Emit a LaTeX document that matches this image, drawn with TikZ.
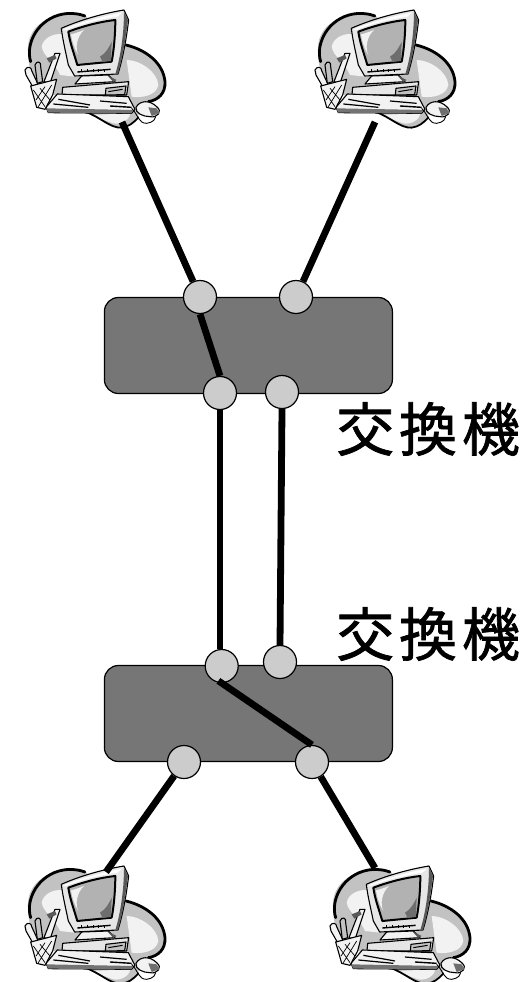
\documentclass[tikz,border=0pt]{standalone}
\usepackage{fontspec}
\newfontfamily\cjk[FakeBold=1.2,LetterSpace=8.5]{Noto Sans CJK JP}
\definecolor{swgray}{HTML}{767676}
\definecolor{portgray}{HTML}{CCCCCC}
\definecolor{cloudgray}{HTML}{C2C2C2}
\definecolor{cloudlight}{HTML}{F2F2F2}
\definecolor{screengray}{HTML}{B2B2B2}
\definecolor{shadegray}{HTML}{6E6E6E}
\definecolor{bodygray}{HTML}{E6E6E6}
\tikzset{
  switchbox/.style={draw=black,line width=1.2pt,fill=swgray,rounded corners=14pt,minimum width=288pt,minimum height=96pt,inner sep=0pt},
  portnode/.style={circle,draw=black,line width=1.2pt,fill=portgray,minimum size=33pt,inner sep=0pt},
  linkline/.style={line width=6.8pt,black},
  lbl/.style={inner sep=0pt,font=\cjk\fontsize{58}{58}\selectfont},
  ink/.style={draw=black,line width=1.1pt,line join=round},
  pics/desktop/.style={code={
    \begin{scope}[x=0.3333pt,y=-0.3333pt]
    % cloud
    \path[fill=cloudgray] (85,130) .. controls (95,70) and (160,30) .. (250,45) -- (380,135)
      .. controls (440,150) and (490,190) .. (495,245) .. controls (497,290) and (460,310) .. (430,310)
      .. controls (420,350) and (390,385) .. (350,382) .. controls (320,375) and (290,345) .. (250,335)
      -- (100,250) .. controls (90,210) and (80,170) .. (85,130) -- cycle;
    \path[fill=cloudlight] (125,140) .. controls (130,110) and (170,95) .. (200,105) -- (225,230) -- (180,225) .. controls (160,180) and (130,170) .. (125,140) -- cycle;
    \path[fill=cloudlight] (380,180) .. controls (420,180) and (472,215) .. (475,255) .. controls (470,285) and (430,295) .. (395,290) -- cycle;
    \path[fill=cloudlight] (270,345) -- (390,340) .. controls (390,360) and (360,375) .. (340,370) -- cycle;
    % cloud outline
    \draw[line width=2.8pt,line cap=round] (92,185) .. controls (75,130) and (115,55) .. (190,42) .. controls (215,38) and (240,42) .. (255,48);
    \draw[line width=2.8pt,line cap=round] (378,135) .. controls (440,150) and (490,190) .. (495,245) .. controls (497,280) and (475,300) .. (445,305);
    \draw[line width=1.8pt,line cap=round] (255,335) .. controls (300,350) and (330,385) .. (365,383) .. controls (385,380) and (400,370) .. (415,352);
    % monitor
    \path[ink,fill=bodygray] (184,85) .. controls (240,60) and (310,40) .. (372,30) -- (386,60)
      .. controls (380,110) and (370,170) .. (354,222) -- (224,228) -- (205,195) .. controls (198,160) and (188,120) .. (184,85) -- cycle;
    \path[fill=white] (190,88) .. controls (240,68) and (310,48) .. (366,38) -- (352,50) .. controls (300,58) and (240,72) .. (198,90) -- cycle;
    \path[draw=black,line width=2pt,fill=screengray,line join=round] (205,95) .. controls (250,78) and (300,65) .. (346,60) .. controls (346,100) and (342,150) .. (335,185) -- (232,195) .. controls (222,160) and (210,130) .. (205,95) -- cycle;
    \path[fill=cloudlight] (213,103) .. controls (225,100) and (240,95) .. (252,90) .. controls (230,110) and (225,145) .. (235,165) .. controls (225,150) and (216,125) .. (213,103) -- cycle;
    \path[fill=shadegray] (300,170) .. controls (318,160) and (328,140) .. (335,125) -- (333,183) -- (308,186) -- cycle;
    \path[fill=black!65] (372,35) -- (384,60) .. controls (378,110) and (368,170) .. (354,222) -- (346,222) .. controls (362,170) and (372,100) .. (372,35) -- cycle;
    \draw[line width=1.4pt] (232,216) -- (332,208);
    \foreach \xi in {245,262,279,296,313} \draw[line width=.9pt] (\xi,208) -- (\xi,216);
    % stand
    \path[ink,fill=cloudlight] (245,228) -- (325,225) -- (345,245) -- (225,252) -- cycle;
    \path[fill=black!65] (322,226) -- (350,240) -- (340,246) -- cycle;
    % base
    \path[ink,fill=bodygray] (188,262) -- (386,245) -- (380,285) -- (186,285) -- cycle;
    \path[ink,fill=cloudgray] (318,265) -- (378,258) -- (374,284) -- (316,285) -- cycle;
    \draw[line width=1pt] (325,275) -- (368,268);
    % keyboard
    \path[ink,fill=cloudlight] (172,282) -- (385,290) -- (405,328) -- (395,340) -- (145,338) -- (138,322) -- cycle;
    \path[fill=black!55] (138,325) -- (400,330) -- (395,340) -- (145,338) -- cycle;
    \draw[line width=1.2pt] (175,298) -- (270,315);
    \draw[line width=1.2pt] (160,312) -- (265,322);
    \draw[line width=1.2pt] (300,303) -- (380,310);
    \draw[line width=1.4pt] (330,318) -- (395,322);
    % mouse and cord
    \draw[line width=.9pt] (395,325) .. controls (415,345) and (415,370) .. (440,370) .. controls (460,368) and (470,355) .. (465,345);
    \path[ink,fill=cloudlight] (408,322) .. controls (420,300) and (450,300) .. (470,320) .. controls (490,335) and (470,355) .. (450,350) .. controls (430,350) and (405,340) .. (408,322) -- cycle;
    \path[fill=shadegray] (445,322) -- (470,325) -- (478,340) -- (455,348) -- cycle;
    % pencil cup
    \path[ink,fill=cloudlight] (165,160) -- (180,160) -- (150,250) -- (132,245) -- cycle;
    \path[fill=black!65] (140,175) -- (165,165) -- (170,175) -- (148,188) -- cycle;
    \path[ink,fill=cloudlight] (75,210) .. controls (80,198) and (95,200) .. (95,212) -- (115,255) -- (98,260) -- (78,225) -- cycle;
    \path[ink,fill=cloudgray] (105,195) .. controls (110,180) and (125,185) .. (122,200) -- (128,245) -- (112,250) -- cycle;
    \path[ink,fill=cloudlight] (92,258) -- (170,238) -- (158,285) -- (135,328) -- (110,322) -- cycle;
    \draw[line width=.7pt] (100,270) -- (135,320) (120,265) -- (150,300) (155,255) -- (115,320) (135,260) -- (108,300);
    \end{scope}
  }}
}
\begin{document}
\begin{tikzpicture}[x=1pt,y=-1pt]
\useasboundingbox (0,0) rectangle (527,982);
\pic at (0,0) {desktop};
\pic at (290,0) {desktop};
\pic at (0,856) {desktop};
\pic at (305,856) {desktop};
\coordinate (pcA) at (122,122);
\coordinate (pcB) at (375,122);
\coordinate (pcC) at (106,872);
\coordinate (pcD) at (375,868);
\node[switchbox] (swT) at (248.4,345.5) {};
\node[switchbox] (swB) at (248.4,713.5) {};
\node[portnode] (t1) at (200,297) {};
\node[portnode] (t2) at (296,297) {};
\node[portnode] (t3) at (220,393) {};
\node[portnode] (t4) at (282,392) {};
\node[portnode] (b1) at (221.7,666) {};
\node[portnode] (b2) at (280,662) {};
\node[portnode] (b3) at (184,762) {};
\node[portnode] (b4) at (312,762) {};
\draw[linkline] (pcA) -- (t1);
\draw[linkline] (pcB) -- (t2);
\draw[linkline] (t1.south) -- (t3.north);
\draw[linkline] (t3.south) -- (t3.south |- b1.north);
\draw[linkline] (t4.south) -- (b2.north);
\draw[linkline,shorten <=-4pt] (b1.south) -- (b4.north);
\draw[linkline] (b3) -- (pcC);
\draw[linkline] (b4) -- (pcD);
\node[lbl,anchor=west] (lt) at (336,429) {交換機};
\node[lbl,anchor=west] (lb) at (336,634) {交換機};
\end{tikzpicture}
\end{document}
